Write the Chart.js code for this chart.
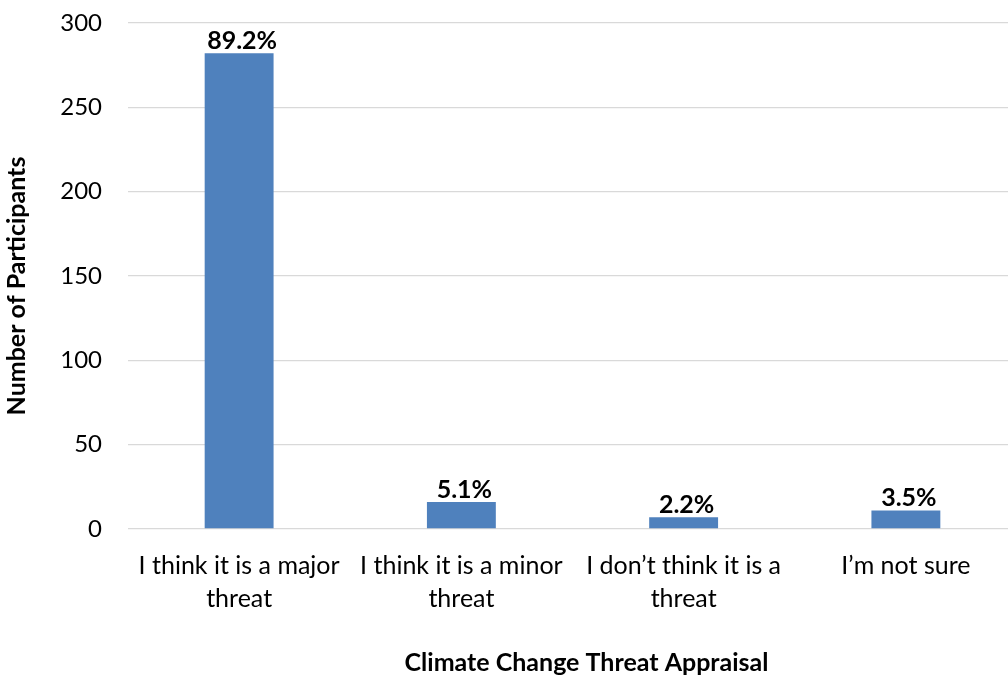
<!DOCTYPE html>
<html>
<head>
<meta charset="utf-8">
<script src="https://cdn.jsdelivr.net/npm/chart.js@4/dist/chart.umd.min.js"></script>
<style>
  html, body { margin: 0; padding: 0; background: #ffffff; overflow: hidden; }
  #wrap { width: 1022px; height: 679px; position: relative; }
</style>
</head>
<body>
<div id="wrap"><canvas id="chart"></canvas></div>
<script>
// Survey answers: how serious a threat is climate change?
const categories = [
  ["I think it is a major", "threat"],
  ["I think it is a minor", "threat"],
  ["I don\u2019t think it is a", "threat"],
  ["I\u2019m not sure"]
];
const participants = [282, 16, 7, 11];
const yTicks = { min: 0, max: 300, step: 50 };
const xTitle = "Climate Change Threat Appraisal";
const yTitle = "Number of Participants";

const total = participants.reduce((a, b) => a + b, 0);
const shareLabels = participants.map(v => (v / total * 100).toFixed(1) + "%");

const FONT = "Lato, 'Open Sans', sans-serif";

// Percentage of respondents written above each bar
const barLabels = {
  id: "barLabels",
  afterDatasetsDraw(chart) {
    const ctx = chart.ctx;
    const meta = chart.getDatasetMeta(0);
    ctx.save();
    ctx.font = "bold 25px " + FONT;
    ctx.fillStyle = "#000000";
    ctx.textAlign = "center";
    ctx.textBaseline = "alphabetic";
    meta.data.forEach((bar, i) => {
      ctx.fillText(shareLabels[i], bar.x + 3, bar.y - 4);
    });
    ctx.restore();
  }
};

// Axis titles
const axisTitles = {
  id: "axisTitles",
  afterDraw(chart) {
    const ctx = chart.ctx;
    const area = chart.chartArea;
    ctx.save();
    ctx.font = "bold 25px " + FONT;
    ctx.fillStyle = "#000000";
    ctx.textAlign = "center";
    ctx.textBaseline = "middle";
    ctx.fillText(xTitle, (area.left + area.right) / 2 + 14, 663);
    ctx.translate(17, (area.top + area.bottom) / 2 + 10);
    ctx.rotate(-Math.PI / 2);
    ctx.fillText(yTitle, 0, 0);
    ctx.restore();
  }
};

new Chart(document.getElementById("chart"), {
  type: "bar",
  data: {
    labels: categories,
    datasets: [{
      data: participants,
      backgroundColor: "#4f81bd",
      borderWidth: 0,
      barPercentage: 0.31,
      categoryPercentage: 1.0
    }]
  },
  options: {
    responsive: true,
    maintainAspectRatio: false,
    animation: false,
    layout: { padding: { top: 23, right: 5, bottom: 0, left: 0 } },
    plugins: {
      legend: { display: false },
      tooltip: { enabled: false }
    },
    scales: {
      x: {
        grid: { display: false, drawTicks: false },
        border: { display: false },
        ticks: {
          color: "#000000",
          font: { family: FONT, size: 25, lineHeight: 1.32 },
          padding: 20,
          maxRotation: 0,
          autoSkip: false
        },
        afterFit(scale) { scale.height = 150; }
      },
      y: {
        min: yTicks.min,
        max: yTicks.max,
        grid: {
          color: "#d9d9d9",
          lineWidth: 1.3,
          drawTicks: true,
          tickLength: 26,
          tickColor: "rgba(0,0,0,0)"
        },
        border: { display: false },
        ticks: {
          stepSize: yTicks.step,
          color: "#000000",
          font: { family: FONT, size: 24 },
          padding: 0
        },
        afterFit(scale) { scale.width = 128; }
      }
    }
  },
  plugins: [barLabels, axisTitles]
});
</script>
</body>
</html>
